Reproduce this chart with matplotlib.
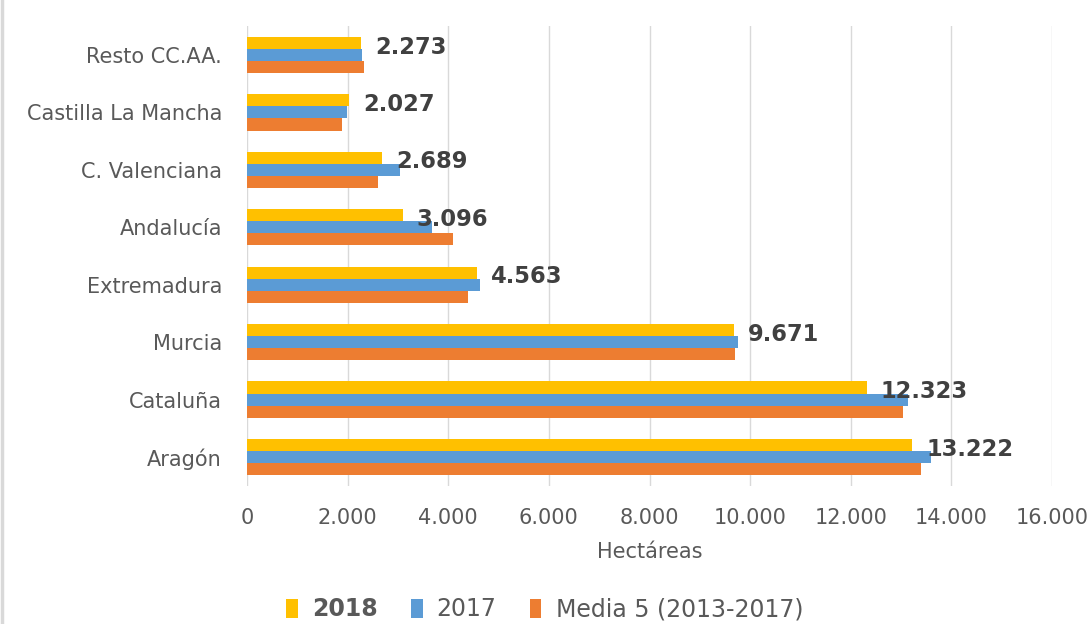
import numpy as np
import matplotlib
matplotlib.use("Agg")
import matplotlib.pyplot as plt
from matplotlib.lines import Line2D
from matplotlib.ticker import FuncFormatter

# Datos (de abajo hacia arriba)
categorias = ["Aragón", "Cataluña", "Murcia", "Extremadura", "Andalucía",
              "C. Valenciana", "Castilla La Mancha", "Resto CC.AA."]
v2018 = [13222, 12323, 9671, 4563, 3096, 2689, 2027, 2273]
v2017 = [13600, 13130, 9750, 4630, 3670, 3045, 1995, 2290]
media = [13390, 13040, 9690, 4390, 4085, 2595, 1880, 2330]
xticks = [0, 2000, 4000, 6000, 8000, 10000, 12000, 14000, 16000]

AMARILLO = "#FFC000"
AZUL = "#5B9BD5"
NARANJA = "#ED7D31"
GRIS = "#595959"

plt.rcParams['font.family'] = ['DejaVu Sans']

fig = plt.figure(figsize=(10.89, 6.24), dpi=100)
ax = fig.add_axes([247 / 1089, 1 - 485.7 / 624, 805 / 1089, 459.4 / 624])

y = np.arange(len(categorias))
h = 0.21
ax.barh(y + h, v2018, height=h, color=AMARILLO, label="2018", zorder=3)
ax.barh(y, v2017, height=h, color=AZUL, label="2017", zorder=3)
ax.barh(y - h, media, height=h, color=NARANJA, label="Media 5 (2013-2017)", zorder=3)

# etiquetas de valor de 2018
for yi, v in zip(y, v2018):
    ax.annotate(f"{v:,}".replace(",", "."), xy=(v, yi + h), xytext=(10, -3),
                textcoords="offset points", va="center", ha="left",
                fontsize=16.3, fontweight="bold", color="#404040", zorder=4)

ax.set_xlim(0, 16000)
ax.set_ylim(-0.5, len(categorias) - 0.5)
ax.set_xticks(xticks)
ax.xaxis.set_major_formatter(FuncFormatter(lambda v, p: f"{int(v):,}".replace(",", ".")))
ax.set_yticks(y)
ax.set_yticklabels(categorias)
ax.tick_params(axis="x", length=0, pad=16, labelsize=15, labelcolor=GRIS)
ax.tick_params(axis="y", length=0, pad=18, labelsize=15, labelcolor=GRIS)
ax.grid(axis="x", color="#D9D9D9", linewidth=1, zorder=0)
for s in ax.spines.values():
    s.set_visible(False)
ax.axvline(0, color="#D9D9D9", linewidth=1.2, zorder=2)

ax.set_xlabel("Hectáreas", fontsize=15, color=GRIS, labelpad=10)

leg = fig.legend(loc="lower center", bbox_to_anchor=(0.5, -0.03), ncol=3, frameon=False,
                 fontsize=17, handlelength=0.5, handleheight=0.9, handletextpad=0.6,
                 columnspacing=1.4, labelcolor=GRIS)
leg.get_texts()[0].set_fontweight("bold")

# borde izquierdo del gráfico
fig.add_artist(Line2D([0.002, 0.002], [0, 1], color="#D9D9D9", linewidth=2.5,
                      transform=fig.transFigure))

fig.savefig("out.png", dpi=100)
